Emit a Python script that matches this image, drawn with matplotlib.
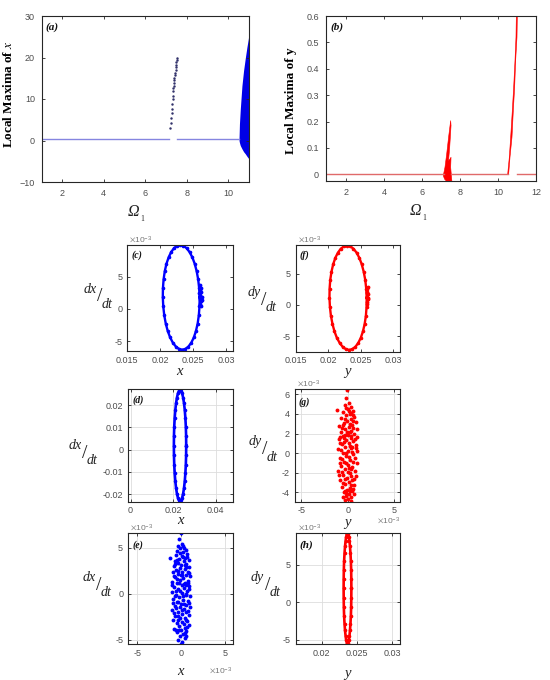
import numpy as np
import matplotlib.pyplot as plt
from matplotlib.ticker import FuncFormatter

plt.rcParams['font.family'] = ['Liberation Sans', 'DejaVu Sans']
plt.rcParams['mathtext.fontset'] = 'stix'

SERIF = ['Liberation Serif', 'DejaVu Serif']
TICK = '#4d4d4d'
FRAME = '#262626'
BLUE = '#0000ff'
RED = '#ff0000'

# ---------------- data ----------------
# (a) local maxima of x versus Omega_1
a_line_x = [1.0, 7.15, np.nan, 7.55, 10.52]
a_line_y = [0.3, 0.3, np.nan, 0.3, 0.3]
a_dots_x = [7.205, 7.23, 7.253, 7.27, 7.285, 7.30, 7.317, 7.333, 7.35, 7.36, 7.366,
            7.38, 7.398, 7.41, 7.43, 7.445, 7.462, 7.475, 7.494, 7.505, 7.515, 7.526]
a_dots_y = [3.1, 4.3, 5.5, 6.6, 7.6, 8.8, 10.0, 10.8, 12.0, 12.6, 13.2,
            13.9, 14.5, 15.1, 15.7, 16.3, 16.9, 17.6, 18.3, 18.9, 19.4, 19.9]
a_wedge_x = [10.52, 10.54, 10.58, 10.66, 10.74, 10.82, 10.90, 10.96, 11.0]
a_wedge_top = [0.5, 4.0, 7.5, 13.2, 16.9, 19.8, 22.5, 24.3, 25.6]
a_wedge_bot = [0.0, -0.5, -1.2, -2.0, -2.7, -3.2, -3.8, -4.2, -4.4]

# (b) local maxima of y versus Omega_1
b_line_x = [0.95, 7.15, np.nan, 7.55, 10.52, np.nan, 10.98, 12.0]
b_line_y = [0.003, 0.003, np.nan, 0.003, 0.003, np.nan, 0.003, 0.003]
b_spike1_x = [7.12, 7.21, 7.30, 7.40, 7.51, 7.53, 7.46, 7.40, 7.47, 7.53, 7.51, 7.58, 7.44, 7.30, 7.19]
b_spike1_y = [-0.005, 0.027, 0.077, 0.141, 0.204, 0.185, 0.103, 0.052, 0.058, 0.065, 0.027,
              -0.030, -0.030, -0.027, -0.018]
b_spike2_x = [10.509, 10.596, 10.667, 10.754, 10.825, 10.895, 10.947, 10.965,
              11.018, 11.0, 10.93, 10.877, 10.807, 10.737, 10.632, 10.56]
b_spike2_y = [0.0, 0.065, 0.141, 0.242, 0.330, 0.432, 0.52, 0.603,
              0.603, 0.52, 0.432, 0.330, 0.242, 0.141, 0.065, 0.0]

# phase portraits, all values in units of 1e-3
c_x = [26.00, 25.93, 25.78, 25.55, 25.25, 24.89, 24.47, 24.02, 23.54, 23.05, 22.57, 22.10,
       21.67, 21.29, 20.96, 20.70, 20.52, 20.42, 20.40, 20.47, 20.62, 20.85, 21.15, 21.52,
       21.93, 22.38, 22.86, 23.35, 23.84, 24.30, 24.73, 25.12, 25.44, 25.70, 25.88, 25.98, 26.00]
c_y = [1.80, 3.21, 4.57, 5.85, 7.01, 8.00, 8.81, 9.41, 9.78, 9.90, 9.78, 9.41,
       8.81, 8.00, 7.01, 5.85, 4.57, 3.21, 1.80, 0.39, -0.97, -2.25, -3.41, -4.41,
       -5.22, -5.81, -6.18, -6.30, -6.18, -5.81, -5.22, -4.41, -3.41, -2.25, -0.97, 0.39, 1.80]
c_knot_x = [26.1, 26.2, 26.0, 26.3, 26.1, 26.25, 26.05, 26.2, 26.1, 26.3, 26.15, 25.95]
c_knot_y = [0.8, 1.2, 1.5, 1.9, 2.2, 2.6, 2.9, 3.3, 3.7, 1.4, 0.4, 2.4]

f_x = [25.90, 25.83, 25.68, 25.44, 25.14, 24.77, 24.35, 23.88, 23.40, 22.90, 22.41, 21.93,
       21.50, 21.10, 20.77, 20.51, 20.32, 20.22, 20.20, 20.27, 20.42, 20.66, 20.96, 21.33,
       21.76, 22.22, 22.70, 23.20, 23.69, 24.17, 24.61, 25.00, 25.33, 25.59, 25.78, 25.88, 25.90]
f_y = [1.15, 2.60, 4.01, 5.33, 6.52, 7.55, 8.38, 9.00, 9.37, 9.50, 9.37, 9.00,
       8.38, 7.55, 6.52, 5.33, 4.01, 2.60, 1.15, -0.30, -1.71, -3.03, -4.22, -5.25,
       -6.08, -6.70, -7.07, -7.20, -7.07, -6.70, -6.08, -5.25, -4.22, -3.03, -1.71, -0.30, 1.15]
f_knot_x = [25.95, 26.05, 25.9, 26.1, 26.0, 25.95, 26.08, 26.02, 26.12, 25.92]
f_knot_y = [0.5, 0.9, 1.3, 1.7, 2.1, 2.5, 2.8, 0.2, 1.1, 1.9]

d_x = [26.20, 26.16, 26.03, 25.81, 25.52, 25.17, 24.75, 24.29, 23.81, 23.30, 22.80, 22.31,
       21.85, 21.44, 21.08, 20.79, 20.57, 20.44, 20.40, 20.44, 20.57, 20.79, 21.08, 21.44,
       21.85, 22.31, 22.80, 23.30, 23.81, 24.29, 24.75, 25.17, 25.52, 25.81, 26.03, 26.16, 26.20]
d_y = [1.85, 6.19, 10.38, 14.33, 17.89, 20.96, 23.46, 25.30, 26.43, 26.80, 26.43, 25.30,
       23.46, 20.96, 17.89, 14.33, 10.38, 6.19, 1.85, -2.49, -6.68, -10.63, -14.19, -17.26,
       -19.76, -21.60, -22.73, -23.10, -22.73, -21.60, -19.76, -17.26, -14.19, -10.63, -6.68, -2.49, 1.85]

h_x = [24.20, 24.19, 24.17, 24.13, 24.07, 24.00, 23.93, 23.84, 23.75, 23.65, 23.55, 23.46,
       23.38, 23.30, 23.23, 23.17, 23.13, 23.11, 23.10, 23.11, 23.13, 23.17, 23.23, 23.30,
       23.38, 23.46, 23.55, 23.65, 23.75, 23.84, 23.93, 24.00, 24.07, 24.13, 24.17, 24.19, 24.20]
h_y = [1.85, 3.13, 4.36, 5.53, 6.58, 7.48, 8.22, 8.76, 9.09, 9.20, 9.09, 8.76,
       8.22, 7.48, 6.58, 5.53, 4.36, 3.13, 1.85, 0.57, -0.66, -1.83, -2.88, -3.78,
       -4.52, -5.06, -5.39, -5.50, -5.39, -5.06, -4.52, -3.78, -2.88, -1.83, -0.66, 0.57, 1.85]

e_points = [(-0.05, 6.55), (-0.2, 5.9), (0.1, 5.4), (-0.3, 5.2), (0.35, 5.0), (-0.1, 4.9),
            (0.5, 4.7), (-0.45, 4.6), (0.2, 4.5), (-1.3, 3.9), (0.7, 4.3), (-0.6, 4.2),
            (0.05, 4.1), (0.45, 3.9), (-0.25, 3.8), (0.85, 3.6), (-0.75, 3.5), (0.3, 3.5),
            (-0.4, 3.3), (0.6, 3.2), (0.0, 3.1), (-0.85, 3.0), (0.95, 2.9), (-0.15, 2.8),
            (0.4, 2.7), (-0.6, 2.6), (0.75, 2.4), (-0.95, 2.3), (0.1, 2.3), (-0.35, 2.1),
            (0.55, 2.0), (1.0, 1.9), (-0.7, 1.8), (0.2, 1.7), (-0.1, 1.5), (0.8, 1.4),
            (-1.0, 1.3), (0.45, 1.2), (-0.5, 1.1), (0.05, 0.9), (0.95, 0.8), (-0.8, 0.7),
            (0.35, 0.6), (-0.3, 0.5), (0.7, 0.3), (-1.05, 0.2), (0.1, 0.1), (-0.55, -0.1),
            (0.5, -0.2), (1.0, -0.3), (-0.2, -0.4), (-0.9, -0.6), (0.25, -0.7), (0.8, -0.8),
            (-0.45, -0.9), (0.0, -1.1), (0.6, -1.2), (-0.75, -1.3), (1.05, -1.4), (-0.15, -1.5),
            (0.35, -1.7), (-1.0, -1.8), (0.75, -1.9), (-0.4, -2.0), (0.15, -2.2), (0.9, -2.3),
            (-0.7, -2.4), (0.45, -2.6), (-0.1, -2.7), (-0.95, -2.9), (0.65, -3.0), (0.1, -3.1),
            (-0.5, -3.2), (0.85, -3.4), (-0.2, -3.5), (0.4, -3.7), (-0.8, -3.8), (0.0, -3.9),
            (0.6, -4.1), (-0.45, -4.2), (0.2, -4.4), (-0.15, -4.6), (0.45, -4.8), (-0.35, -5.0),
            (0.1, -5.2), (0.0, -5.45), (0.25, 4.0), (-0.5, 3.7), (0.6, 2.9), (-0.3, 2.5),
            (0.9, 2.2), (-0.8, 1.9), (0.3, 1.0), (-0.6, 0.3), (0.6, 0.0), (-0.3, -0.9),
            (0.9, -1.0), (-0.6, -1.6), (0.55, -2.0), (-0.35, -2.9), (0.3, -3.3), (-0.6, -4.0),
            (0.4, -4.3), (0.8, 1.1), (-0.2, 1.2), (0.1, -1.8), (-0.85, -2.1), (0.7, -3.6),
            (-0.1, 4.4), (0.4, 3.1), (-1.0, 0.9), (0.2, -0.3), (-0.4, -2.4), (0.95, 0.5),
            (-0.05, 2.0), (0.5, -4.6), (0.65, 4.0), (-0.65, 3.2), (0.15, 2.0), (-0.45, 1.6),
            (0.55, 0.9), (-0.1, 0.3), (0.35, -1.1), (-0.7, -0.3), (0.6, -2.9), (-0.25, -3.9),
            (0.25, 5.2), (-0.9, -1.0)]

g_points = [(-0.1, 6.4), (-0.2, 5.6), (0.15, 5.1), (-0.35, 4.9), (0.3, 4.7), (-1.2, 4.4),
            (0.05, 4.5), (0.55, 4.3), (-0.5, 4.2), (0.2, 4.0), (-0.2, 3.9), (0.7, 3.7),
            (-0.7, 3.6), (0.35, 3.5), (-0.05, 3.3), (0.85, 3.2), (-0.45, 3.1), (0.5, 2.9),
            (-0.9, 2.8), (0.1, 2.7), (0.95, 2.5), (-0.3, 2.5), (0.4, 2.3), (-0.75, 2.2),
            (0.7, 2.0), (0.0, 1.9), (-0.55, 1.8), (1.0, 1.6), (0.3, 1.5), (-0.95, 1.4),
            (-0.2, 1.3), (0.6, 1.2), (0.1, 1.0), (-0.65, 0.9), (0.85, 0.8), (-0.35, 0.6),
            (0.35, 0.5), (-1.0, 0.4), (1.0, 0.2), (0.0, 0.2), (-0.5, 0.0), (0.55, -0.1),
            (-0.15, -0.3), (0.8, -0.5), (-0.85, -0.5), (0.25, -0.7), (-0.4, -0.9), (0.95, -1.0),
            (0.0, -1.2), (-0.7, -1.3), (0.5, -1.4), (-0.25, -1.6), (0.75, -1.8), (-1.0, -1.8),
            (0.2, -2.0), (-0.5, -2.2), (0.9, -2.3), (-0.05, -2.5), (0.45, -2.7), (-0.8, -2.7),
            (0.1, -2.9), (-0.35, -3.1), (0.7, -3.2), (-0.6, -3.4), (0.25, -3.5), (-0.1, -3.7),
            (0.5, -3.9), (-0.45, -4.0), (0.1, -4.2), (0.35, -4.5), (-0.2, -4.4), (0.0, -4.7),
            (0.3, -4.85), (-0.3, -4.8), (0.4, 4.1), (-0.3, 3.5), (0.2, 3.0), (-0.6, 2.6),
            (0.6, 2.6), (-0.1, 2.2), (0.4, 1.8), (-0.8, 1.6), (0.75, 1.4), (-0.4, 1.1),
            (0.2, 0.7), (-0.75, 0.3), (0.45, 0.1), (0.15, -0.4), (-0.6, -0.6), (0.6, -0.9),
            (-0.2, -1.0), (0.35, -1.6), (-0.8, -1.0), (0.0, -1.9), (-0.3, -2.6), (0.7, -2.6),
            (-0.55, -3.0), (0.4, -3.2), (-0.3, -3.8), (0.2, -3.9), (0.65, -4.2), (-0.5, -4.5),
            (0.9, 0.5), (-0.9, -2.2), (0.55, 3.3), (-0.15, 4.6), (0.1, -1.5), (-0.45, 1.5),
            (0.6, 3.9), (-0.5, 2.9), (0.25, 2.2), (-0.3, 1.9), (0.5, 0.6), (-0.15, 0.0),
            (0.4, -2.3), (-0.6, -1.9), (0.55, -3.6), (-0.15, -4.1), (0.15, 4.3), (-0.8, 1.0)]

# ---------------- helpers ----------------
def rect(l, r, t, b):
    return [l / 550, 1 - b / 680, (r - l) / 550, (b - t) / 680]

milli = FuncFormatter(lambda v, p: f'{v / 1000:g}')
plain = FuncFormatter(lambda v, p: f'{v:g}')


def style(ax, pad=3.5, grid=False):
    for s in ax.spines.values():
        s.set_color(FRAME)
        s.set_linewidth(0.8)
    ax.tick_params(direction='in', top=True, right=True, length=2.5, width=0.6,
                   color=FRAME, labelsize=6.5, labelcolor=TICK, pad=pad)
    if grid:
        ax.grid(True, color='#dddddd', lw=0.6)
        ax.set_axisbelow(True)


def tag(ax, s, x, y, size=7.5):
    ax.text(x, y, s, transform=ax.transAxes, family=SERIF, fontsize=size,
            fontweight='bold', fontstyle='italic', ha='left', va='center', color='#111111')


def dlabel(ax, var, sx, sy):
    kw = dict(transform=ax.transAxes, family=SERIF, ha='center', va='center', color='#222222')
    ax.text(sx, sy, '/', fontsize=14, **kw)
    ax.text(sx - 0.095, sy + 0.072, 'd' + var, fontsize=10, fontstyle='italic', **kw)
    ax.text(sx + 0.07, sy - 0.068, 'dt', fontsize=10, fontstyle='italic', **kw)


def xname(ax, s, y):
    ax.text(0.5, y, s, transform=ax.transAxes, family=SERIF, fontsize=10.5,
            fontstyle='italic', ha='center', va='center', color='#222222')


def omega(ax, x, y):
    ax.text(x, y, 'Ω', transform=ax.transAxes, family=SERIF, fontsize=11.5,
            fontstyle='italic', ha='center', va='center', color='#222222')
    ax.annotate('1', xy=(x, y), xycoords='axes fraction', xytext=(6.5, -5),
                textcoords='offset points', family=SERIF, fontsize=5.5,
                ha='center', va='center', color='#222222')


def scale(ax, x, y, ha):
    ax.text(x, y, r'$\times\mathdefault{10^{-3}}$', transform=ax.transAxes,
            fontsize=6, color='#777777', ha=ha, va='center')


fig = plt.figure(figsize=(5.5, 6.8), dpi=100)

# (a)
ax = fig.add_axes(rect(42, 249, 16, 182))
ax.plot(a_line_x, a_line_y, color='#8585e0', lw=1.0)
ax.plot(a_dots_x, a_dots_y, ls='none', marker='.', ms=1.5, color='#30306a')
ax.fill_between(a_wedge_x, a_wedge_bot, a_wedge_top, color='#0000e6', lw=0)
ax.set_xlim(1.03, 11.0)
ax.set_ylim(-10, 30)
ax.set_xticks([2, 4, 6, 8, 10])
ax.set_yticks([-10, 0, 10, 20, 30])
style(ax, pad=5)
ax.set_ylabel(r'Local Maxima of $\mathit{x}$', family=SERIF, fontweight='bold', fontsize=9.5)
ax.yaxis.set_label_coords(-0.13, 0.53)
omega(ax, 0.44, -0.18)
tag(ax, '(a)', 0.015, 0.93, 8)

# (b)
ax = fig.add_axes(rect(326, 536, 16, 181.5))
ax.plot(b_line_x, b_line_y, color='#e06a6a', lw=1.0)
ax.fill(b_spike1_x, b_spike1_y, color=RED, lw=0.4)
ax.fill(b_spike2_x, b_spike2_y, color=RED, lw=0.4)
ax.set_xlim(0.95, 12.0)
ax.set_ylim(-0.027, 0.6)
ax.set_xticks([2, 4, 6, 8, 10, 12])
ax.set_yticks([0, 0.1, 0.2, 0.3, 0.4, 0.5, 0.6])
ax.yaxis.set_major_formatter(plain)
style(ax, pad=5)
ax.set_ylabel('Local Maxima of y', family=SERIF, fontweight='bold', fontsize=9.5)
ax.yaxis.set_label_coords(-0.14, 0.49)
omega(ax, 0.424, -0.18)
tag(ax, '(b)', 0.02, 0.93, 8)

# (c)
ax = fig.add_axes(rect(127.3, 232.5, 245, 351))
ax.plot(c_x, c_y, color=BLUE, lw=1.7, marker='.', ms=3.2)
ax.plot(c_knot_x, c_knot_y, ls='none', marker='.', ms=3.5, color=BLUE)
ax.set_xlim(15, 31)
ax.set_ylim(-6.5, 9.9)
ax.set_xticks([15, 20, 25, 30])
ax.set_yticks([-5, 0, 5])
ax.xaxis.set_major_formatter(milli)
ax.yaxis.set_major_formatter(plain)
style(ax)
scale(ax, 0.02, 1.055, 'left')
dlabel(ax, 'x', -0.26, 0.51)
xname(ax, 'x', -0.19)
tag(ax, '(c)', 0.04, 0.905, 7)

# (f)
ax = fig.add_axes(rect(295.5, 400, 245, 351.5))
ax.plot(f_x, f_y, color=RED, lw=1.7, marker='.', ms=3.2)
ax.plot(f_knot_x, f_knot_y, ls='none', marker='.', ms=3.5, color=RED)
ax.set_xlim(15, 31)
ax.set_ylim(-7.45, 9.6)
ax.set_xticks([15, 20, 25, 30])
ax.set_yticks([-5, 0, 5])
ax.xaxis.set_major_formatter(milli)
ax.yaxis.set_major_formatter(plain)
style(ax)
scale(ax, 0.02, 1.055, 'left')
dlabel(ax, 'y', -0.3, 0.48)
xname(ax, 'y', -0.19)
tag(ax, '(f)', 0.04, 0.9, 7)

# (d)
ax = fig.add_axes(rect(128, 232.5, 389.4, 501.6))
ax.plot(d_x, d_y, color=BLUE, lw=1.9, marker='.', ms=3.2)
ax.set_xlim(-1.2, 48)
ax.set_ylim(-23.3, 27.1)
ax.set_xticks([0, 20, 40])
ax.set_yticks([-20, -10, 0, 10, 20])
ax.xaxis.set_major_formatter(milli)
ax.yaxis.set_major_formatter(milli)
style(ax, grid=True)
dlabel(ax, 'x', -0.41, 0.43)
xname(ax, 'x', -0.17)
tag(ax, '(d)', 0.04, 0.9, 7)

# (g)
ax = fig.add_axes(rect(294.6, 400, 389.4, 501.6))
gx, gy = zip(*g_points)
ax.plot(gx, gy, ls='none', marker='o', ms=2.8, mew=0, color=RED)
ax.set_xlim(-5.7, 5.6)
ax.set_ylim(-4.93, 6.5)
ax.set_xticks([-5, 0, 5])
ax.set_yticks([-4, -2, 0, 2, 4, 6])
ax.xaxis.set_major_formatter(plain)
ax.yaxis.set_major_formatter(plain)
style(ax, grid=True)
scale(ax, 0.02, 1.05, 'left')
scale(ax, 1.0, -0.17, 'right')
dlabel(ax, 'y', -0.28, 0.46)
xname(ax, 'y', -0.185)
tag(ax, '(g)', 0.04, 0.89, 7)

# (e)
ax = fig.add_axes(rect(128, 232.5, 532.8, 644.3))
ex, ey = zip(*e_points)
ax.plot(ex, ey, ls='none', marker='o', ms=2.8, mew=0, color=BLUE)
ax.set_xlim(-6.05, 5.85)
ax.set_ylim(-5.5, 6.6)
ax.set_xticks([-5, 0, 5])
ax.set_yticks([-5, 0, 5])
ax.xaxis.set_major_formatter(plain)
ax.yaxis.set_major_formatter(plain)
style(ax, grid=True)
scale(ax, 0.02, 1.05, 'left')
scale(ax, 1.0, -0.24, 'right')
dlabel(ax, 'x', -0.28, 0.53)
xname(ax, 'x', -0.245)
tag(ax, '(e)', 0.04, 0.89, 7)

# (h)
ax = fig.add_axes(rect(295.7, 400, 532.8, 644.3))
ax.plot(h_x, h_y, color=RED, lw=1.9, marker='.', ms=3.2)
ax.set_xlim(16.3, 31.1)
ax.set_ylim(-5.63, 9.3)
ax.set_xticks([20, 25, 30])
ax.set_yticks([-5, 0, 5])
ax.xaxis.set_major_formatter(milli)
ax.yaxis.set_major_formatter(plain)
style(ax, grid=True)
scale(ax, 0.02, 1.05, 'left')
dlabel(ax, 'y', -0.27, 0.53)
xname(ax, 'y', -0.26)
tag(ax, '(h)', 0.04, 0.89, 8)

fig.savefig('out.png', dpi=100)
